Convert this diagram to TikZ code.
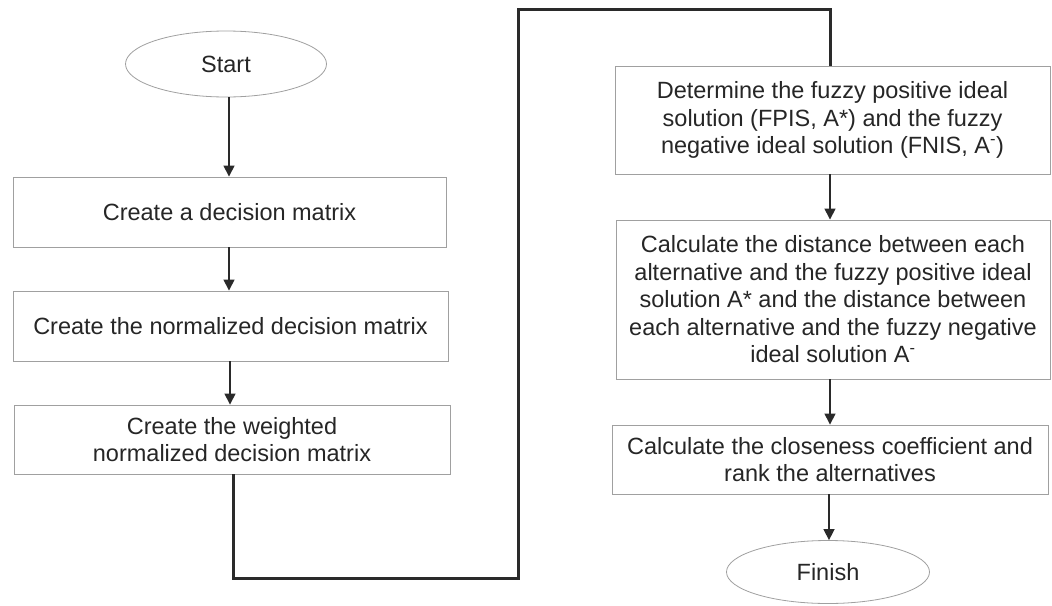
\documentclass[tikz,border=0pt]{standalone}
\usepackage{fontspec}
\setmainfont{Liberation Sans}
\usetikzlibrary{shapes.geometric,arrows.meta}
\definecolor{txt}{HTML}{262626}
\definecolor{boxline}{HTML}{A0A0A0}
\definecolor{conn}{HTML}{2A2A2A}
\begin{document}
\begin{tikzpicture}[x=1pt,y=-1pt,
  every node/.style={text=txt,font=\fontsize{23.5}{27.5}\selectfont,align=center,inner sep=0pt},
  procbox/.style={draw=boxline,line width=0.9pt,rectangle},
  terminal/.style={draw=boxline,line width=0.8pt,ellipse},
  flow/.style={draw=conn,line width=1.5pt,-{Triangle[width=11pt,length=11pt]}},
  longflow/.style={draw=conn,line width=3pt}]
\useasboundingbox (0,0) rectangle (1052,605);
\fill[white] (0,0) rectangle (1052,605);
% left column
\node[terminal,minimum width=201pt,minimum height=66pt] (start) at (226,64) {Start};
\node[procbox,minimum width=433pt,minimum height=70pt] (b1) at (229.5,212) {Create a decision matrix};
\node[procbox,minimum width=435pt,minimum height=70pt] (b2) at (230.5,326) {Create the normalized decision matrix};
\node[procbox,minimum width=436pt,minimum height=69pt] (b3) at (232,439.5) {Create the weighted\\normalized decision matrix};
% right column
\node[procbox,minimum width=435pt,minimum height=108pt] (b4) at (832.5,120) {Determine the fuzzy positive ideal\\solution (FPIS, A*) and the fuzzy\\negative ideal solution (FNIS, A\textsuperscript{-})};
\node[procbox,minimum width=434pt,minimum height=159pt] (b5) at (833,299.5) {Calculate the distance between each\\alternative and the fuzzy positive ideal\\solution A* and the distance between\\each alternative and the fuzzy negative\\ideal solution A\textsuperscript{-}};
\node[procbox,minimum width=436pt,minimum height=69pt] (b6) at (830,459.5) {Calculate the closeness coefficient and\\rank the alternatives};
\node[terminal,minimum width=203pt,minimum height=63pt] (finish) at (828,572) {Finish};
% coordinates for the long connector
\coordinate (c1) at (233,578);
\coordinate (c2) at (518,578);
\coordinate (c3) at (518,9);
\coordinate (c4) at (830,9);
% arrows
\draw[flow] (start.south -| 229,0) -- (b1.north -| 229,0);
\draw[flow] (b1.south -| 229,0) -- (b2.north -| 229,0);
\draw[flow] (b2.south -| 230,0) -- (b3.north -| 230,0);
\draw[longflow] (b3.south -| c1) -- (c1) -- (c2) -- (c3) -- (c4) -- (c4 |- b4.north);
\draw[flow] (b4.south -| 830,0) -- (b5.north -| 830,0);
\draw[flow] (b5.south -| 830,0) -- (b6.north -| 830,0);
\draw[flow] (b6.south -| 829,0) -- (finish.north -| 829,0);
\end{tikzpicture}
\end{document}
